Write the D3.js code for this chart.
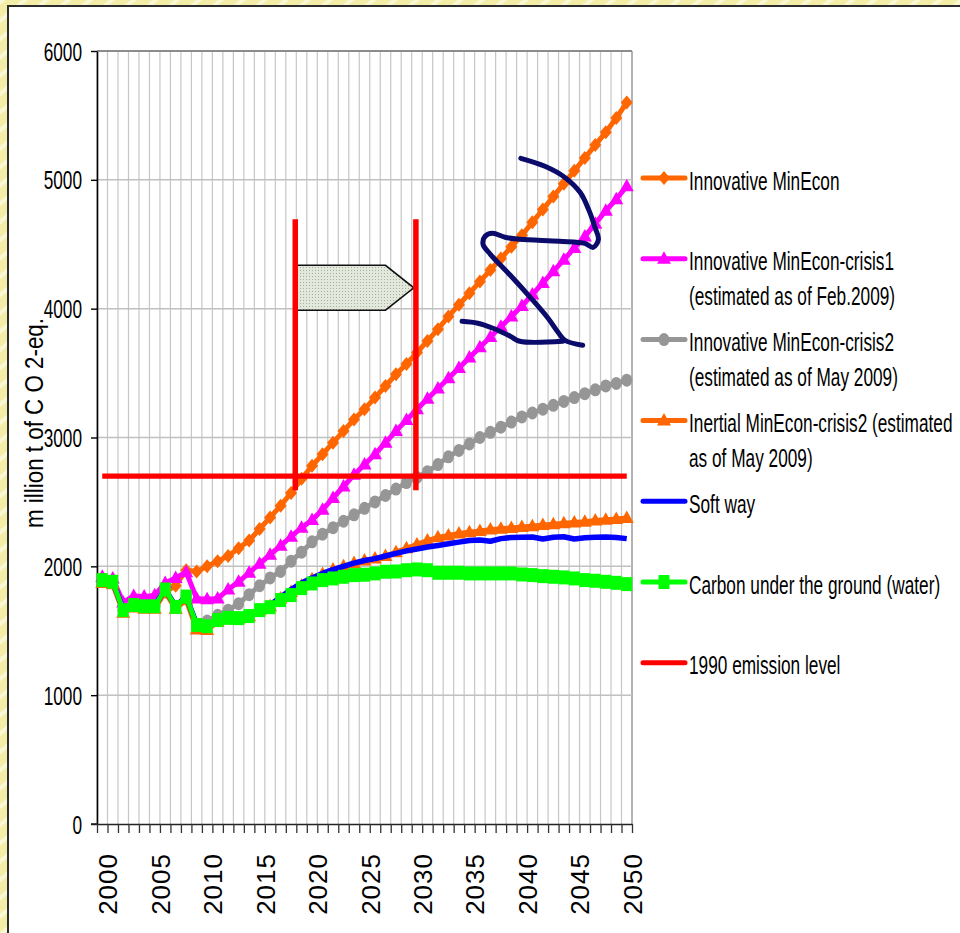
<!DOCTYPE html>
<html>
<head>
<meta charset="utf-8">
<script src="https://cdn.jsdelivr.net/npm/d3@7"></script>
<style>
body { margin: 0; background: #fff; }
svg { display: block; }
text { font-family: "Liberation Sans", Arial, sans-serif; fill: #000; }
</style>
</head>
<body>
<script>
const W = 960
const H = 933

// categories
const years = d3.range(2000, 2051)
const yTicks = [0, 1000, 2000, 3000, 4000, 5000, 6000]
const xLabelYears = [2000, 2005, 2010, 2015, 2020, 2025, 2030, 2035, 2040, 2045, 2050]

// series values (million t CO2-eq.), 2000..2050
const innovative = [1893, 1880, 1660, 1700, 1690, 1690, 1800, 1850, 1970, 1960,
	2000, 2040, 2080, 2140, 2200, 2290, 2380, 2470, 2570, 2680,
	2780, 2870, 2960, 3050, 3140, 3220, 3310, 3400, 3490, 3570,
	3660, 3750, 3840, 3940, 4030, 4120, 4210, 4300, 4390, 4480,
	4570, 4670, 4770, 4870, 4970, 5070, 5170, 5270, 5370, 5480, 5600]
const crisis1 = [1920, 1905, 1720, 1770, 1765, 1775, 1870, 1910, 1955, 1750,
	1745, 1750, 1820, 1880, 1950, 2020, 2090, 2160, 2230, 2300,
	2360, 2440, 2530, 2620, 2710, 2790, 2870, 2960, 3050, 3135,
	3220, 3300, 3380, 3460, 3540, 3620, 3700, 3780, 3860, 3940,
	4020, 4110, 4200, 4290, 4380, 4470, 4560, 4660, 4760, 4850, 4950]
const crisis2 = [1893, 1880, 1660, 1700, 1690, 1690, 1820, 1685, 1765, 1550,
	1575, 1620, 1660, 1710, 1780, 1850, 1910, 1960, 2040, 2110,
	2190, 2250, 2300, 2350, 2400, 2450, 2500, 2550, 2600, 2650,
	2690, 2735, 2790, 2850, 2900, 2950, 3000, 3040, 3080, 3120,
	3160, 3190, 3220, 3250, 3280, 3310, 3340, 3370, 3400, 3420, 3445]
const inertial = [1870, 1860, 1640, 1680, 1670, 1670, 1800, 1670, 1740, 1510,
	1505, 1570, 1590, 1595, 1612, 1660, 1690, 1750, 1800, 1850,
	1900, 1940, 1975, 2000, 2025, 2045, 2060, 2080, 2110, 2140,
	2170, 2200, 2225, 2240, 2255, 2265, 2275, 2285, 2292, 2298,
	2305, 2312, 2320, 2327, 2335, 2340, 2347, 2355, 2362, 2368, 2375]
const softWay = [1893, 1880, 1665, 1705, 1695, 1695, 1820, 1690, 1765, 1550,
	1540, 1585, 1600, 1600, 1620, 1665, 1700, 1760, 1820, 1870,
	1910, 1945, 1975, 2000, 2025, 2045, 2060, 2080, 2100, 2120,
	2135, 2150, 2162, 2175, 2188, 2200, 2205, 2195, 2215, 2224,
	2226, 2228, 2212, 2226, 2230, 2212, 2222, 2226, 2228, 2224, 2215]
const carbon = [1893, 1880, 1660, 1700, 1690, 1690, 1820, 1685, 1765, 1545,
	1535, 1583, 1600, 1598, 1614, 1660, 1683, 1738, 1777, 1831,
	1867, 1893, 1906, 1919, 1932, 1935, 1945, 1958, 1960, 1970,
	1976, 1970, 1950, 1950, 1950, 1945, 1945, 1945, 1945, 1945,
	1937, 1932, 1924, 1919, 1914, 1906, 1893, 1888, 1880, 1872, 1862]
const level1990 = [2700, 2700, 2700, 2700, 2700, 2700, 2700, 2700, 2700, 2700,
	2700, 2700, 2700, 2700, 2700, 2700, 2700, 2700, 2700, 2700,
	2700, 2700, 2700, 2700, 2700, 2700, 2700, 2700, 2700, 2700,
	2700, 2700, 2700, 2700, 2700, 2700, 2700, 2700, 2700, 2700,
	2700, 2700, 2700, 2700, 2700, 2700, 2700, 2700, 2700, 2700, 2700]

const legendLabels = [
	["Innovative MinEcon"],
	["Innovative MinEcon-crisis1", "(estimated as of Feb.2009)"],
	["Innovative MinEcon-crisis2", "(estimated as of May 2009)"],
	["Inertial MinEcon-crisis2 (estimated", "as of May 2009)"],
	["Soft way"],
	["Carbon under the ground (water)"],
	["1990 emission level"]
]

// hand-drawn annotations, in data units (year, value)
const bracketYears = [2018.4, 2029.9]
const bracketValues = [2591, 4694]
const arrowYears = [2018.55, 2027.0, 2029.7, 2027.0, 2018.55]
const arrowValues = [4337, 4337, 4162, 3988, 3988]
const scribbleYears = [2039.9, 2042.2, 2044.1, 2045.55, 2046.4, 2047.0, 2047.3, 2046.8, 2046.0, 2043.6,
	2039.8, 2038.4, 2037.2, 2036.5, 2036.3, 2037.0, 2038.9, 2040.8, 2042.5, 2043.45, 2044.1, 2045.8]
const scribbleValues = [5167, 5105, 5019, 4903, 4763, 4625, 4538, 4476, 4507, 4523,
	4538, 4554, 4585, 4562, 4500, 4422, 4259, 4088, 3926, 3817, 3755, 3716]
const tailYears = [2043.9, 2039.8, 2038.9, 2037.25, 2035.8, 2034.3]
const tailValues = [3747, 3747, 3786, 3848, 3887, 3902]

const series = [
	{values: innovative, color: "#ff6600", marker: "diamond", width: 5},
	{values: crisis1, color: "#ff00ff", marker: "triangle", width: 5},
	{values: crisis2, color: "#969696", marker: "circle", width: 5},
	{values: inertial, color: "#ff6600", marker: "triangle", width: 5},
	{values: softWay, color: "#0000ff", marker: null, width: 5.5},
	{values: carbon, color: "#00ff00", marker: "square", width: 5},
	{values: level1990, color: "#ff0000", marker: null, width: 5.3}
]

const markerPath = {
	diamond: "M0,-7L6,0L0,7L-6,0Z",
	triangle: "M0,-7.5L7,5L-7,5Z",
	square: "M-5.5,-7H5.5V7H-5.5Z",
	circle: "M-5.5,0A5.5,6.5 0 1,0 5.5,0A5.5,6.5 0 1,0 -5.5,0Z"
}

const body = d3.select("body")
const svg = body.append("svg").attr("width", W).attr("height", H)
const defs = svg.append("defs")

// yellow paper background
let paper = defs.append("pattern")
	.attr("id", "paper")
	.attr("width", 14).attr("height", 14)
	.attr("patternUnits", "userSpaceOnUse")
	.attr("patternTransform", "rotate(-40)")
paper.append("rect").attr("width", 14).attr("height", 14).attr("fill", "#f3eda8")
paper.append("rect").attr("width", 14).attr("height", 4).attr("fill", "#faf7d4")

let dots = defs.append("pattern")
	.attr("id", "dots")
	.attr("width", 3).attr("height", 3)
	.attr("patternUnits", "userSpaceOnUse")
dots.append("rect").attr("width", 3).attr("height", 3).attr("fill", "#e3e8dc")
dots.append("rect").attr("width", 1).attr("height", 1).attr("fill", "#a6af9d")

svg.append("rect").attr("width", W).attr("height", H).attr("fill", "url(#paper)")
svg.append("rect")
	.attr("x", 8).attr("y", 6)
	.attr("width", W).attr("height", H)
	.attr("fill", "#fff")
	.attr("stroke", "#2b2b2b")
	.attr("stroke-width", 2)

// scales
const x = d3.scaleBand().domain(years).range([97, 632])
const y = d3.scaleLinear().domain([0, 6000]).range([824, 51])
const cx = d => x(d) + x.bandwidth() / 2
const xYear = d3.scaleLinear().domain([2000, 2050]).range([cx(2000), cx(2050)])
const xb = d3.scaleLinear().domain([0, years.length]).range(x.range())

// grid
const bounds = d3.range(years.length + 1)
svg.append("g").selectAll("line")
	.data(bounds)
	.join("line")
	.attr("x1", d => xb(d)).attr("x2", d => xb(d))
	.attr("y1", y(6000)).attr("y2", y(0))
	.attr("stroke", (d, i) => i === years.length ? "#a0a0a0" : "#c6c6c6")
	.attr("stroke-width", (d, i) => i === years.length ? 1.6 : 1.2)

svg.append("g").selectAll("line")
	.data(yTicks.slice(1))
	.join("line")
	.attr("x1", x.range()[0]).attr("x2", x.range()[1])
	.attr("y1", d => y(d)).attr("y2", d => y(d))
	.attr("stroke", d => d === 6000 ? "#8c8c8c" : "#c0c0c0")
	.attr("stroke-width", d => d === 6000 ? 2 : 1.5)

// axes
let yAxis = d3.axisLeft(y).tickValues(yTicks).tickSize(6).tickSizeOuter(0).tickFormat(d3.format("d"))
let gy = svg.append("g")
	.attr("transform", "translate(" + x.range()[0] + ",0)")
	.call(yAxis)
gy.select(".domain").attr("stroke", "#000").attr("stroke-width", 1.6)
gy.selectAll(".tick line").attr("stroke", "#000").attr("stroke-width", 1.4)
gy.selectAll(".tick text")
	.attr("x", 0).attr("dy", null)
	.attr("transform", "translate(-15,9) scale(0.69,1)")
	.attr("text-anchor", "end")
	.attr("font-size", 25)
	.attr("font-family", "Liberation Sans, Arial, sans-serif")

let xAxis = d3.axisBottom(xb).tickValues(bounds).tickSize(9).tickSizeOuter(0).tickFormat("")
let gx = svg.append("g")
	.attr("transform", "translate(0," + y(0) + ")")
	.call(xAxis)
gx.select(".domain").attr("stroke", "#222").attr("stroke-width", 1.6)
gx.selectAll(".tick line").attr("stroke", "#333").attr("stroke-width", 1.3)
svg.append("line")
	.attr("x1", x.range()[0] - 6).attr("x2", x.range()[0])
	.attr("y1", y(0)).attr("y2", y(0))
	.attr("stroke", "#222").attr("stroke-width", 1.6)

svg.append("g").selectAll("text")
	.data(xLabelYears)
	.join("text")
	.attr("transform", d => "translate(" + (cx(d) + 15) + ",853) rotate(-90)")
	.attr("text-anchor", "end")
	.attr("font-size", 26)
	.attr("letter-spacing", 1)
	.text(d => d)

svg.append("text")
	.attr("transform", "translate(43,423) rotate(-90)")
	.attr("text-anchor", "middle")
	.attr("font-size", 25)
	.attr("textLength", 210)
	.attr("lengthAdjust", "spacingAndGlyphs")
	.text("m illion t of C O 2-eq.")

// series
let line = d3.line()
	.x((d, i) => cx(years[i]))
	.y(d => y(d))

series.forEach(s => {
	let g = svg.append("g")
	g.append("path")
		.attr("d", line(s.values))
		.attr("fill", "none")
		.attr("stroke", s.color)
		.attr("stroke-width", s.width)
		.attr("stroke-linejoin", "round")
	if (s.marker) {
		g.selectAll("path.m")
			.data(s.values)
			.join("path")
			.attr("class", "m")
			.attr("d", markerPath[s.marker])
			.attr("transform", (d, i) => "translate(" + cx(years[i]) + "," + y(d) + ")")
			.attr("fill", s.color)
	}
})

// annotations
svg.append("path")
	.attr("d", d3.line().x((d, i) => xYear(arrowYears[i])).y(d => y(d))(arrowValues) + "Z")
	.attr("fill", "url(#dots)")
	.attr("stroke", "#111")
	.attr("stroke-width", 1.6)
	.attr("stroke-linejoin", "miter")

svg.append("g").selectAll("line")
	.data(bracketYears)
	.join("line")
	.attr("x1", d => xYear(d)).attr("x2", d => xYear(d))
	.attr("y1", y(bracketValues[0])).attr("y2", y(bracketValues[1]))
	.attr("stroke", "#ff0000")
	.attr("stroke-width", 5.5)

let scribble = d3.line()
	.x((d, i) => xYear(d[0]))
	.y(d => y(d[1]))
	.curve(d3.curveCatmullRom.alpha(0.5))
svg.append("path")
	.attr("d", scribble(scribbleYears.map((d, i) => [d, scribbleValues[i]])))
	.attr("fill", "none")
	.attr("stroke", "#0b0b6c")
	.attr("stroke-width", 5)
	.attr("stroke-linecap", "round")
	.attr("stroke-linejoin", "round")
svg.append("path")
	.attr("d", scribble(tailYears.map((d, i) => [d, tailValues[i]])))
	.attr("fill", "none")
	.attr("stroke", "#0b0b6c")
	.attr("stroke-width", 5)
	.attr("stroke-linecap", "round")
	.attr("stroke-linejoin", "round")

// legend
const legendTop = 178
const legendStep = 80.8
let legend = svg.append("g")
	.selectAll("g")
	.data(series)
	.join("g")
	.attr("transform", (d, i) => "translate(0," + (legendTop + i * legendStep) + ")")

legend.append("line")
	.attr("x1", 643).attr("x2", 685)
	.attr("stroke", d => d.color)
	.attr("stroke-width", 5)
	.attr("stroke-linecap", "round")
legend.filter(d => d.marker)
	.append("path")
	.attr("d", d => markerPath[d.marker])
	.attr("transform", "translate(664,0)")
	.attr("fill", d => d.color)
legend.each(function(d, i) {
	d3.select(this).selectAll("text")
		.data(legendLabels[i])
		.join("text")
		.attr("transform", (t, j) => "translate(689," + (11.5 + j * 35) + ") scale(0.69,1)")
		.attr("font-size", 25)
		.text(t => t)
})
</script>
</body>
</html>
